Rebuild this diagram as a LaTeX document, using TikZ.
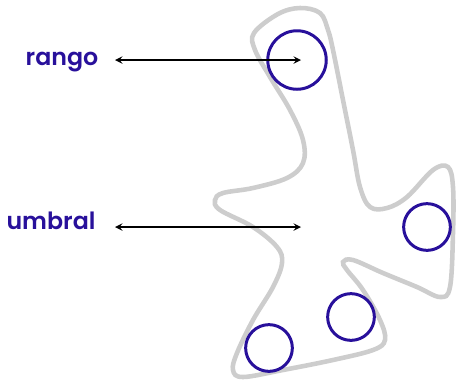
\documentclass[tikz,border=0pt]{standalone}
\usepackage{fontspec}
\setmainfont{Poppins}[UprightFont=* SemiBold]
\definecolor{indigo}{RGB}{40,16,155}
\definecolor{blobgray}{RGB}{205,205,205}
\newcommand{\spot}[3]{node[draw=indigo,line width=1.7pt,circle,inner sep=0pt,minimum size=#3] (#1) at #2 {}}

\begin{document}
\begin{tikzpicture}[x=0.02cm,y=-0.02cm]
\useasboundingbox (0,0) rectangle (460,383);
% the blob
\draw[blobgray,line width=2.6pt] plot[smooth cycle,tension=0.6] coordinates {
 (254,33) (278,14) (300,8) (320,13) (328,30) (333,50) (343,100) (353,150)
 (360,187) (370,207) (387,208) (407,197) (433,170) (448,167) (453,187)
 (453,233) (450,287) (440,297) (417,287) (383,273) (353,260) (343,262)
 (347,270) (363,290) (380,320) (385,340) (373,350) (333,360) (283,370)
 (243,377) (233,370) (237,353) (253,320) (273,287) (282,263) (277,247)
 (253,227) (220,210) (215,200) (223,193) (253,188) (287,178) (303,163)
 (303,140) (290,110) (270,77) (255,50)};
% circles
\draw \spot{c1}{(297,60)}{33.3pt};
\draw \spot{c2}{(427,227)}{26.6pt};
\draw \spot{c3}{(351,317)}{26.6pt};
\draw \spot{c4}{(269,348)}{26.6pt};
% labels
\node[text=indigo,font=\fontsize{13.5}{16}\selectfont] (rango) at (62,62) {rango};
\node[text=indigo,font=\fontsize{13.5}{16}\selectfont] (umbral) at (51,221) {umbral};
\coordinate (r1) at (115,60);
\coordinate (r2) at (301,60);
\coordinate (u1) at (115,227);
\coordinate (u2) at (301,227);
\draw[<->,>=stealth,line width=0.85pt] (r1) -- (r2);
\draw[<->,>=stealth,line width=0.85pt] (u1) -- (u2);
\end{tikzpicture}
\end{document}
